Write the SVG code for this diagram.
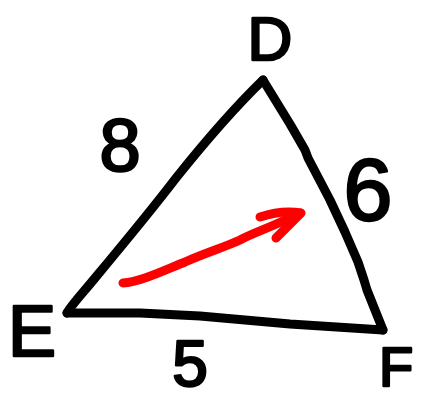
<svg xmlns="http://www.w3.org/2000/svg" width="421" height="401" viewBox="0 0 421 401">
<style>
.lbl{font-family:"Liberation Sans",Arial,sans-serif;fill:#000;stroke:#000;stroke-width:2.5;stroke-linejoin:round;text-anchor:middle}
.edge{fill:none;stroke:#000;stroke-width:9;stroke-linecap:round;stroke-linejoin:round}
.arrow{fill:none;stroke:#f00;stroke-width:9;stroke-linecap:round;stroke-linejoin:round}
</style>
<rect width="421" height="401" fill="#fff"/>
<g id="connectors">
<path class="edge" d="M263,80 C230,112 200,148 176,178 C150,212 120,248 95,278 C82,294 72,304 67,313"/>
<path class="edge" d="M67,313 L140,313 L200,316 L290,324 L383,330"/>
<path class="edge" d="M263,80 L290,124 L305,150 L308,158 L330,200 L345,232 L358,262 L364,280 L367,290 L383,330"/>
</g>
<g id="arrow">
<path class="arrow" d="M123,283 C140,282 165,270 185,262 C205,253 225,247 240,240 C255,232 270,228 300,213"/>
<path class="arrow" d="M260,217 C275,212 290,211 301,213 L276,238"/>
</g>
<g id="D"><text class="lbl" x="270" y="60" font-size="62">D</text></g>
<g id="E"><text class="lbl" x="32" y="356" font-size="72">E</text></g>
<g id="F"><text class="lbl" x="396" y="386" font-size="56">F</text></g>
<g id="l8"><text class="lbl" x="120" y="171" font-size="74">8</text></g>
<g id="l6"><text class="lbl" x="368" y="220" font-size="88">6</text></g>
<g id="l5"><text class="lbl" x="190" y="386" font-size="64">5</text></g>
</svg>
